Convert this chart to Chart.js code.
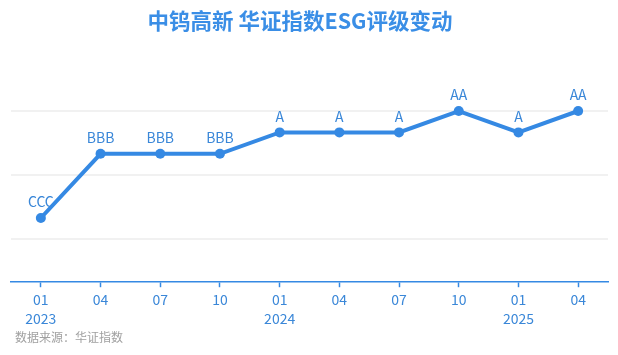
<!DOCTYPE html>
<html>
<head>
    <title>中钨高新 华证指数ESG评级变动</title>
    <style>
        body { margin: 0; background: #fff; overflow: hidden; }
        #wrap { width: 618px; height: 355px; position: relative; }
    </style>
</head>
<body>
    <div id="wrap"><canvas id="esg-chart"></canvas></div>

    <script src="https://cdn.jsdelivr.net/npm/chart.js"></script>
    <script>
        // Data
        const months = ['01', '04', '07', '10', '01', '04', '07', '10', '01', '04'];
        const years = ['2023', '', '', '', '2024', '', '', '', '2025', ''];
        const ratings = ['CCC', 'BBB', 'BBB', 'BBB', 'A', 'A', 'A', 'AA', 'A', 'AA'];
        // rating scale, lowest first (index + 1 = value on the y axis)
        const ratingScale = ['C', 'CC', 'CCC', 'B', 'BB', 'BBB', 'A', 'AA', 'AAA'];
        const gridTicks = [2, 5, 8];
        const titleText = '中钨高新 华证指数ESG评级变动';
        const sourceText = '数据来源：华证指数';

        const blue = '#3589e3';
        const textBlue = '#3a87d8';
        const font = '"Noto Sans CJK SC", "Noto Sans", sans-serif';

        const labels = months.map((m, i) => [m, years[i]]);
        const values = ratings.map(r => ratingScale.indexOf(r) + 1);

        // Rating text above each point, drawn under the line
        const ratingLabels = {
            id: 'ratingLabels',
            beforeDatasetsDraw(chart) {
                const ctx = chart.ctx;
                const meta = chart.getDatasetMeta(0);
                ctx.save();
                ctx.font = '14px ' + font;
                ctx.fillStyle = textBlue;
                ctx.textAlign = 'center';
                ctx.textBaseline = 'middle';
                meta.data.forEach((pt, i) => {
                    ctx.fillText(ratings[i], pt.x, pt.y - 16);
                });
                ctx.restore();
            }
        };

        // Title on top and source note at the bottom left
        const texts = {
            id: 'texts',
            afterDraw(chart) {
                const ctx = chart.ctx;
                ctx.save();
                ctx.textBaseline = 'middle';
                ctx.textAlign = 'center';
                ctx.font = 'bold 21.5px ' + font;
                ctx.fillStyle = '#3a8ee6';
                ctx.fillText(titleText, 300, 21);
                ctx.textAlign = 'left';
                ctx.font = '12px ' + font;
                ctx.fillStyle = '#a0a0a0';
                ctx.fillText(sourceText, 15, 337);
                ctx.restore();
            }
        };

        const canvas = document.getElementById('esg-chart');
        canvas.width = 618;
        canvas.height = 355;

        new Chart(canvas.getContext('2d'), {
            type: 'line',
            data: {
                labels: labels,
                datasets: [{
                    data: values,
                    borderColor: blue,
                    backgroundColor: blue,
                    borderWidth: 4,
                    pointRadius: 5,
                    pointBackgroundColor: blue,
                    pointBorderWidth: 0,
                    tension: 0,
                    clip: false
                }]
            },
            options: {
                responsive: false,
                animation: false,
                layout: { padding: { left: 11, right: 10, top: 111, bottom: 24 } },
                plugins: {
                    legend: { display: false },
                    tooltip: { enabled: false },
                    title: { display: false }
                },
                scales: {
                    x: {
                        offset: true,
                        grid: {
                            drawOnChartArea: false,
                            tickLength: 5,
                            tickColor: blue,
                            tickWidth: 1.5
                        },
                        border: { color: blue, width: 1.5 },
                        ticks: {
                            color: textBlue,
                            font: { family: font, size: 14, lineHeight: 1.35 },
                            padding: 3,
                            maxRotation: 0,
                            autoSkip: false
                        }
                    },
                    y: {
                        min: 0,
                        max: 8,
                        afterBuildTicks(axis) {
                            axis.ticks = gridTicks.map(v => ({ value: v }));
                        },
                        grid: { color: '#f1f1f1', lineWidth: 2, drawTicks: false },
                        border: { display: false },
                        ticks: { display: false }
                    }
                }
            },
            plugins: [ratingLabels, texts]
        });
    </script>
</body>
</html>
